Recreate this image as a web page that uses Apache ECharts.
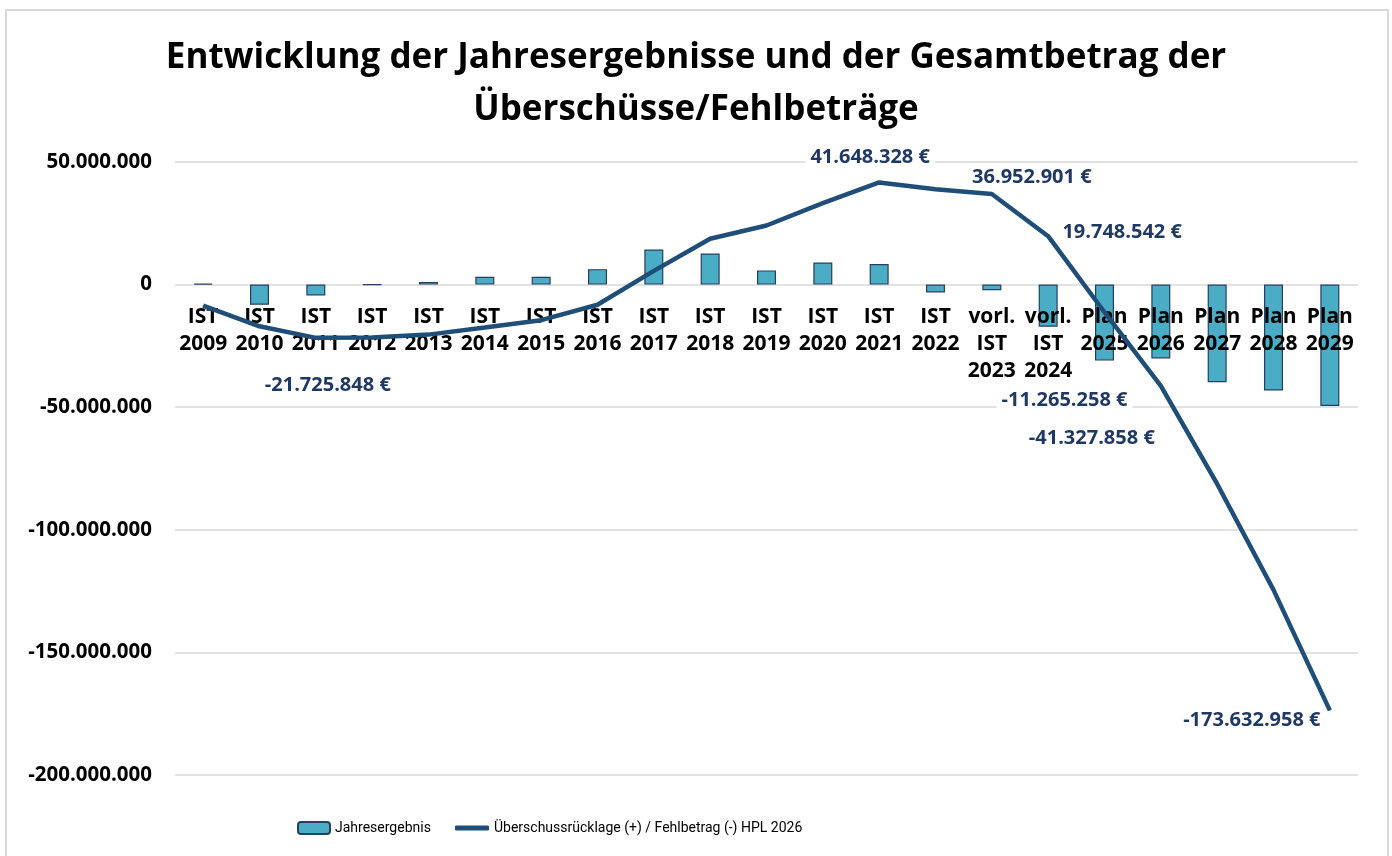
<!DOCTYPE html>
<html>
<head>
<meta charset="utf-8">
<script src="https://cdn.jsdelivr.net/npm/echarts@6/dist/echarts.min.js"></script>
<style>
  html, body { margin: 0; padding: 0; background: #fff; }
  #chart { width: 1392px; height: 856px; }
</style>
</head>
<body>
<div id="chart"></div>
<script>
// Kategorien (x-Achse)
var kategorien = [
  'IST\n2009', 'IST\n2010', 'IST\n2011', 'IST\n2012', 'IST\n2013', 'IST\n2014', 'IST\n2015',
  'IST\n2016', 'IST\n2017', 'IST\n2018', 'IST\n2019', 'IST\n2020', 'IST\n2021', 'IST\n2022',
  'vorl.\nIST\n2023', 'vorl.\nIST\n2024',
  'Plan\n2025', 'Plan\n2026', 'Plan\n2027', 'Plan\n2028', 'Plan\n2029'
];

// Jahresergebnis (Balken)
var jahresergebnis = [
  400000, -8200000, -4400000, -100000, 1100000, 3200000, 3200000,
  6300000, 14300000, 12700000, 5800000, 9000000, 8400000, -3200000,
  -2300000, -17200000,
  -31000000, -30100000, -39800000, -43200000, -49500000
];

// Überschussrücklage (+) / Fehlbetrag (-) (Linie)
var ruecklage = [
  -8600000, -17000000, -21725848, -21600000, -20400000, -17500000, -14500000,
  -8200000, 5600000, 18700000, 24100000, 33200000, 41648328, 38900000,
  36952901, 19748542,
  -11265258, -41327858, -81300000, -124500000, -173632958
];

// Punkte mit Beschriftung
var beschriftet = [2, 12, 14, 15, 16, 17, 20];

// y-Achse
var yMin = -200000000;
var yMax = 50000000;
var yStep = 50000000;

var nameBalken = 'Jahresergebnis';
var nameLinie = 'Überschussrücklage (+) / Fehlbetrag (-) HPL 2026';

function punkte(n) {
  var s = String(Math.abs(Math.round(n)));
  s = s.replace(/\B(?=(\d{3})+(?!\d))/g, '.');
  return (n < 0 ? '-' : '') + s;
}

var chart = echarts.init(document.getElementById('chart'));

// Plotfläche
var gridTop = 162;
var gridBottom = 81;
var plotHoehe = 856 - gridTop - gridBottom;
// Abstand der Nulllinie vom unteren Rand der Plotfläche (Beschriftung sitzt an der Nulllinie)
var nullAbstand = plotHoehe * (0 - yMin) / (yMax - yMin);

var labelOffset = {
  2: [12, 47],
  12: [-9, -25],
  14: [40, -17],
  15: [74, -4],
  16: [-40, 88],
  17: [-69, 52],
  20: [-78, 10]
};
var mitHintergrund = { 12: true, 16: true };

var linienDaten = ruecklage.map(function (v, i) {
  if (beschriftet.indexOf(i) < 0) return v;
  return {
    value: v,
    label: {
      show: true,
      position: 'inside',
      offset: labelOffset[i],
      backgroundColor: mitHintergrund[i] ? '#fff' : 'transparent',
      padding: mitHintergrund[i] ? [2, 5] : 0
    }
  };
});

var legendText = {
  fontFamily: 'Roboto',
  fontSize: 14,
  color: '#000'
};

var option = {
  backgroundColor: '#fff',
  animation: false,
  graphic: [{
    type: 'rect',
    shape: { x: 6, y: 10, width: 1382, height: 880 },
    style: { fill: 'none', stroke: '#d9d9d9', lineWidth: 2 },
    silent: true,
    z: -10
  }],
  title: {
    text: 'Entwicklung der Jahresergebnisse und der Gesamtbetrag der\nÜberschüsse/Fehlbeträge',
    left: 'center',
    top: 27,
    textStyle: {
      fontFamily: 'Open Sans',
      fontWeight: 'bold',
      fontSize: 35,
      lineHeight: 52,
      color: '#000'
    }
  },
  legend: [{
    left: 297,
    top: 821,
    padding: 0,
    itemWidth: 32,
    itemHeight: 12,
    itemGap: 0,
    textStyle: legendText,
    data: [nameBalken]
  }, {
    left: 455,
    top: 821,
    padding: 0,
    itemWidth: 34,
    itemHeight: 5,
    icon: 'roundRect',
    textStyle: legendText,
    data: [nameLinie]
  }],
  grid: {
    left: 175,
    right: 34,
    top: gridTop,
    bottom: gridBottom,
    outerBoundsMode: 'none'
  },
  xAxis: {
    type: 'category',
    data: kategorien,
    z: 3,
    offset: -nullAbstand,
    axisLine: { show: false, onZero: false },
    axisTick: { show: false },
    axisLabel: {
      interval: 0,
      margin: 19,
      fontFamily: 'Open Sans',
      fontWeight: 'bold',
      fontSize: 21,
      lineHeight: 27,
      color: '#000'
    }
  },
  yAxis: {
    type: 'value',
    min: yMin,
    max: yMax,
    interval: yStep,
    axisLine: { show: false },
    axisTick: { show: false },
    splitLine: { lineStyle: { color: '#d9d9d9', width: 1.5 } },
    axisLabel: {
      margin: 23,
      fontFamily: 'Open Sans',
      fontWeight: 'bold',
      fontSize: 20.5,
      color: '#000',
      formatter: function (v) { return punkte(v); }
    }
  },
  series: [
    {
      name: nameBalken,
      type: 'bar',
      data: jahresergebnis,
      barWidth: 19,
      z: 2,
      itemStyle: {
        color: '#4BACC6',
        borderColor: '#243f60',
        borderWidth: 1.2
      }
    },
    {
      name: nameLinie,
      type: 'line',
      data: linienDaten,
      z: 4,
      symbol: 'circle',
      symbolSize: 1,
      showAllSymbol: true,
      itemStyle: { color: '#1F4E79' },
      lineStyle: { color: '#1F4E79', width: 4.5 },
      label: {
        show: false,
        fontFamily: 'Open Sans',
        fontWeight: 'bold',
        fontSize: 20,
        color: '#1F3864',
        formatter: function (p) { return punkte(p.value) + ' €'; }
      }
    }
  ]
};

chart.setOption(option);
</script>
</body>
</html>
